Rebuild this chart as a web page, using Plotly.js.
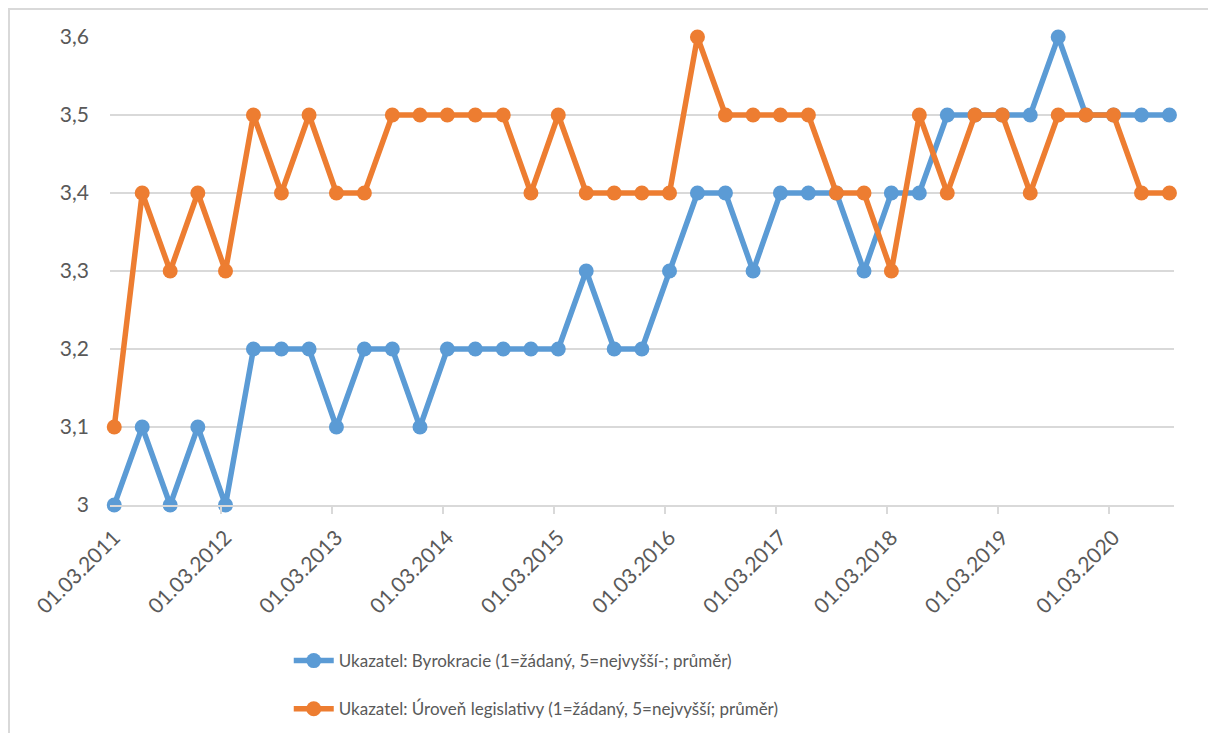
<!DOCTYPE html>
<html>
<head>
<meta charset="utf-8">
<script src="https://cdn.plot.ly/plotly-3.0.1.min.js"></script>
<style>
html,body{margin:0;padding:0;background:#fff;overflow:hidden;}
#frame{position:absolute;left:8px;top:8px;width:1300px;height:800px;border-left:2px solid #d9d9d9;border-top:2px solid #d9d9d9;box-sizing:border-box;pointer-events:none;}
#chart{position:absolute;left:0;top:0;width:1208px;height:733px;}
</style>
</head>
<body>
<div id="chart"></div>
<div id="frame"></div>
<script>
const dates = [
 "2011-03-01","2011-06-01","2011-09-01","2011-12-01",
 "2012-03-01","2012-06-01","2012-09-01","2012-12-01",
 "2013-03-01","2013-06-01","2013-09-01","2013-12-01",
 "2014-03-01","2014-06-01","2014-09-01","2014-12-01",
 "2015-03-01","2015-06-01","2015-09-01","2015-12-01",
 "2016-03-01","2016-06-01","2016-09-01","2016-12-01",
 "2017-03-01","2017-06-01","2017-09-01","2017-12-01",
 "2018-03-01","2018-06-01","2018-09-01","2018-12-01",
 "2019-03-01","2019-06-01","2019-09-01","2019-12-01",
 "2020-03-01","2020-06-01","2020-09-01"
];
const byrokracie = [
 3.0,3.1,3.0,3.1,
 3.0,3.2,3.2,3.2,
 3.1,3.2,3.2,3.1,
 3.2,3.2,3.2,3.2,
 3.2,3.3,3.2,3.2,
 3.3,3.4,3.4,3.3,
 3.4,3.4,3.4,3.3,
 3.4,3.4,3.5,3.5,
 3.5,3.5,3.6,3.5,
 3.5,3.5,3.5
];
const legislativa = [
 3.1,3.4,3.3,3.4,
 3.3,3.5,3.4,3.5,
 3.4,3.4,3.5,3.5,
 3.5,3.5,3.5,3.4,
 3.5,3.4,3.4,3.4,
 3.4,3.6,3.5,3.5,
 3.5,3.5,3.4,3.4,
 3.3,3.5,3.4,3.5,
 3.5,3.4,3.5,3.5,
 3.5,3.4,3.4
];
const seriesNames = [
 "Ukazatel: Byrokracie (1=žádaný, 5=nejvyšší-; průměr)",
 "Ukazatel: Úroveň legislativy (1=žádaný, 5=nejvyšší; průměr)"
];
const xTickVals = ["2011-03-01","2012-03-01","2013-03-01","2014-03-01","2015-03-01","2016-03-01","2017-03-01","2018-03-01","2019-03-01","2020-03-01"];
const xTickText = ["01.03.2011","01.03.2012","01.03.2013","01.03.2014","01.03.2015","01.03.2016","01.03.2017","01.03.2018","01.03.2019","01.03.2020"];
const xTickMarkVals = ["2012-02-15","2013-02-15","2014-02-15","2015-02-15","2016-02-15","2017-02-15","2018-02-15","2019-02-15","2020-02-15"];
const yTickVals = [3.0,3.1,3.2,3.3,3.4,3.5,3.6];
const yTickText = ["3","3,1","3,2","3,3","3,4","3,5","3,6"];

const xRange = ["2011-02-15","2020-09-16"];
const FONT = "Lato, 'Open Sans', sans-serif";

const traces = [
 {x: dates, y: byrokracie, name: seriesNames[0], type: "scatter", mode: "lines+markers", cliponaxis: false,
  line: {color: "#5B9BD5", width: 5.5}, marker: {color: "#5B9BD5", size: 15}, legendgroup: "a"},
 {x: dates, y: legislativa, name: seriesNames[1], type: "scatter", mode: "lines+markers", cliponaxis: false,
  line: {color: "#ED7D31", width: 5.5}, marker: {color: "#ED7D31", size: 15}, legendgroup: "b"}
];

const layout = {
 width: 1208, height: 733,
 margin: {l: 110, r: 34, t: 37, b: 228, autoexpand: false},
 paper_bgcolor: "#fff", plot_bgcolor: "#fff",
 separators: ", ",
 font: {family: FONT, color: "#595959", size: 18},
 showlegend: true,
 legend: {orientation: "v", x: 0.168, xanchor: "left", y: -0.295, yanchor: "top",
  font: {family: FONT, size: 17, color: "#595959"}, tracegroupgap: 23, itemwidth: 40},
 xaxis: {type: "date", range: xRange, tickmode: "array", tickvals: xTickVals, ticktext: xTickText,
  tickangle: -45, showgrid: false, zeroline: false, showline: true, linecolor: "#d9d9d9", linewidth: 2,
  ticks: "", ticklabelstandoff: 10, tickfont: {family: FONT, size: 21, color: "#595959"},
  minor: {tickmode: "array", tickvals: xTickMarkVals, ticks: "outside", ticklen: 7, tickwidth: 2, tickcolor: "#d9d9d9", showgrid: false}},
 yaxis: {range: [3.0, 3.6], tickmode: "array", tickvals: yTickVals, ticktext: yTickText,
  showgrid: true, gridcolor: "#d9d9d9", gridwidth: 2, zeroline: false, showline: false, ticks: "",
  ticklabelstandoff: 20, tickfont: {family: FONT, size: 21, color: "#595959"}}
};

Plotly.newPlot("chart", traces, layout, {displayModeBar: false, staticPlot: true});
</script>
</body>
</html>
